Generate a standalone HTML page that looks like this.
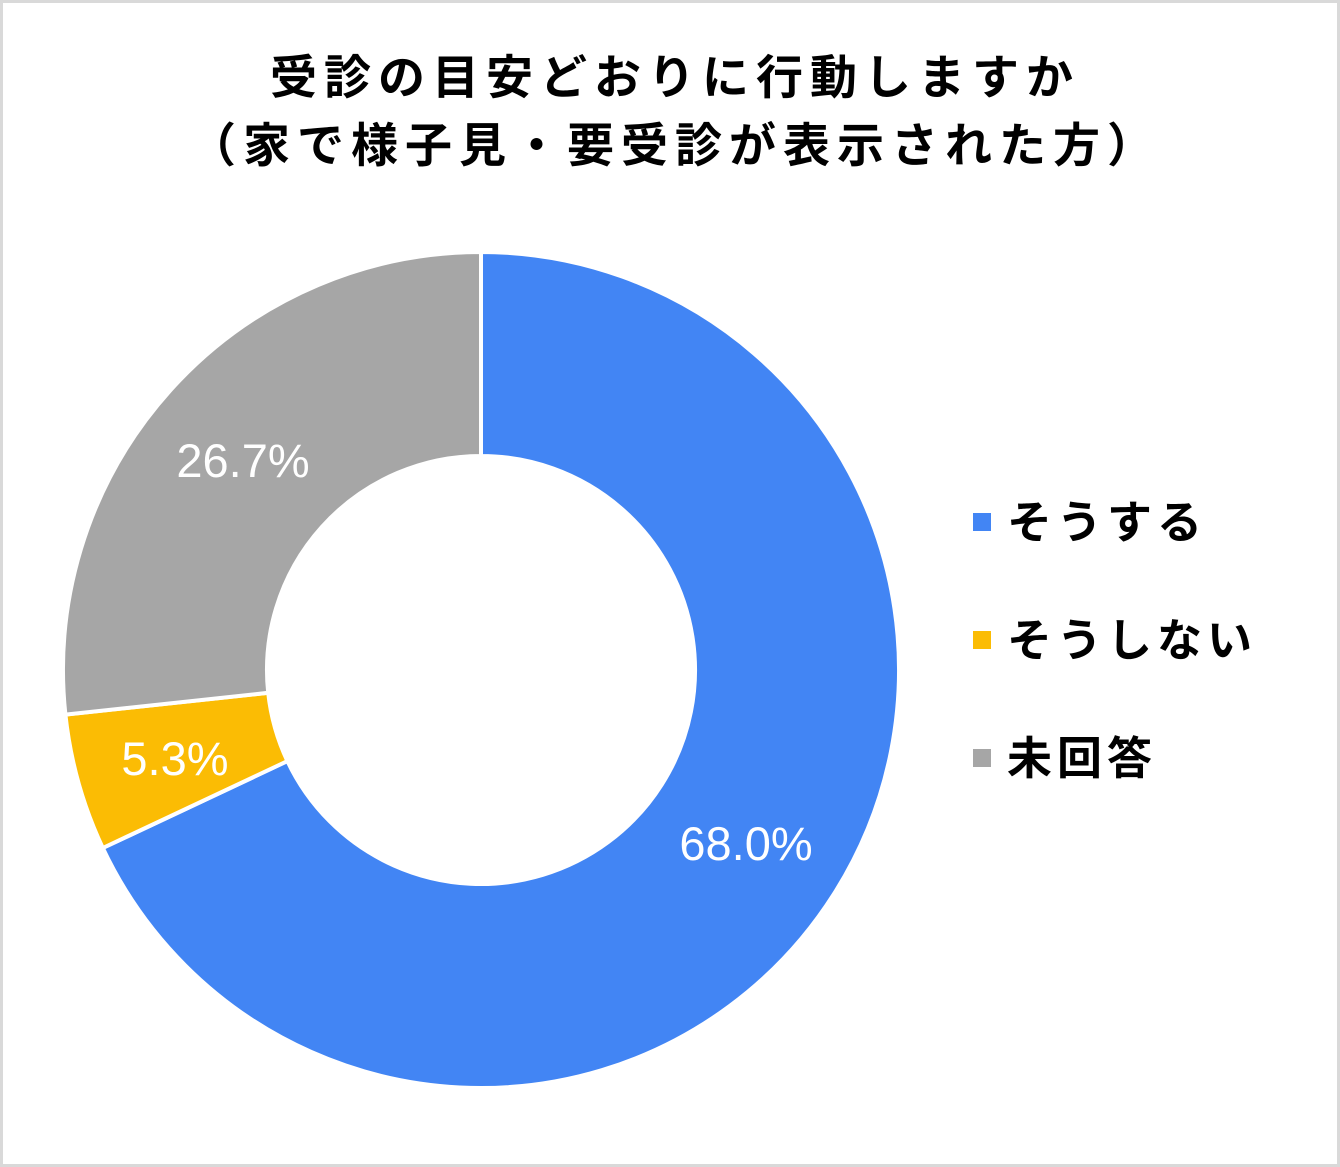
<!DOCTYPE html>
<html><head><meta charset="utf-8"><style>
html,body{margin:0;padding:0;background:#fff;}
.f{position:absolute;left:0;top:0;width:1334px;height:1161px;border:3px solid #d9d9d9;background:#fff;}
</style></head><body>
<div class="f"></div>
<svg width="1340" height="1167" style="position:absolute;left:0;top:0" xmlns="http://www.w3.org/2000/svg">
<g font-family="Liberation Sans, Noto Sans CJK JP, sans-serif" font-weight="bold" font-size="47" fill="#000" text-anchor="middle" letter-spacing="7">
<text x="675" y="94">受診の目安どおりに行動しますか</text>
<text x="675" y="162">（家で様子見・要受診が表示された方）</text>
</g>
<g stroke="#fff" stroke-width="4">
<path d="M481,252 A418,418 0 1 1 102.8,848 L287.4,761.1 A214,214 0 1 0 481,456 Z" fill="#4285f4"/>
<path d="M102.8,848 A418,418 0 0 1 65.4,714.6 L268.2,692.8 A214,214 0 0 0 287.4,761.1 Z" fill="#fbbc04"/>
<path d="M65.4,714.6 A418,418 0 0 1 481,252 L481,456 A214,214 0 0 0 268.2,692.8 Z" fill="#a6a6a6"/>
</g>
<g font-family="Liberation Sans, sans-serif" font-size="47" fill="#fff" text-anchor="middle">
<text x="746" y="860">68.0%</text>
<text x="175" y="775">5.3%</text>
<text x="243" y="477">26.7%</text>
</g>
<rect x="973" y="513" width="18" height="18" fill="#4285f4"/>
<rect x="973" y="631" width="18" height="18" fill="#fbbc04"/>
<rect x="973" y="749" width="18" height="18" fill="#a6a6a6"/>
<g font-family="Liberation Sans, Noto Sans CJK JP, sans-serif" font-weight="bold" font-size="45" fill="#000" letter-spacing="5">
<text x="1007" y="538">そうする</text>
<text x="1007" y="656">そうしない</text>
<text x="1007" y="774">未回答</text>
</g>
</svg>
</body></html>
